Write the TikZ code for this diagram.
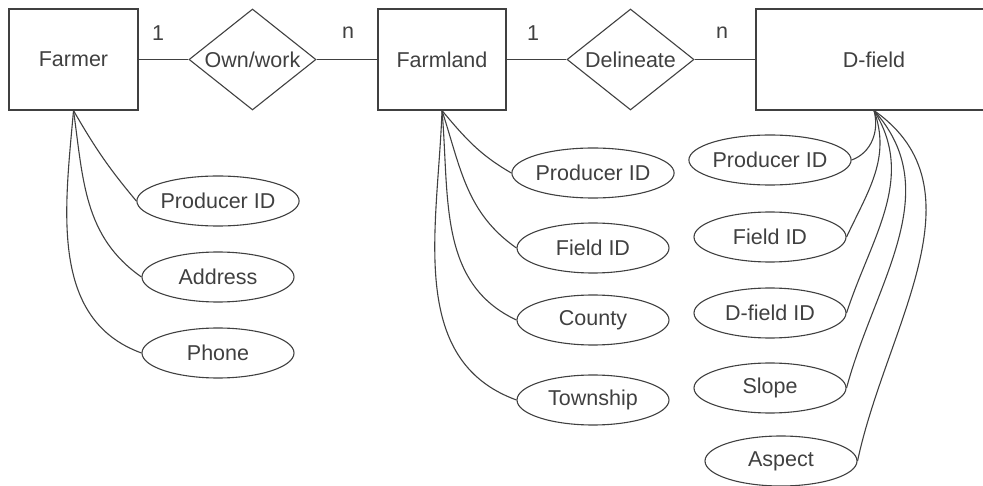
\documentclass[tikz,border=0pt]{standalone}
\usepackage{fontspec}
\setmainfont{Liberation Sans}
\usetikzlibrary{shapes.geometric}
\begin{document}
\begin{tikzpicture}[x=1pt,y=-1pt,line width=1.1pt,color=black!75,
    every node/.style={font=\fontsize{21.5}{25}\selectfont},
    entity/.style={draw,rectangle,inner sep=0pt,minimum height=101pt},
    relation/.style={draw,diamond,aspect=1.26,inner sep=0pt,minimum width=127pt,minimum height=101pt},
    attr/.style={draw,ellipse,inner sep=0pt,minimum width=152pt,minimum height=50pt}]
    \useasboundingbox (0,0) rectangle (983,486);
    \clip (0,0) rectangle (983,486);

    \node[entity,minimum width=129pt] (farmer) at (73.5,59.5) {Farmer};
    \node[relation] (own) at (252.5,59.5) {Own/work};
    \node[entity,minimum width=128pt] (farmland) at (442,59.5) {Farmland};
    \node[relation] (delin) at (630.5,59.5) {Delineate};
    \node[entity,minimum width=236pt] (dfield) at (874,59.5) {D-field};

    \node (c1) at (158,33) {1}; \node (cn) at (348,33) {n};
    \node (d1) at (533,33) {1}; \node (dn) at (722,33) {n};

    \draw (farmer) to (own); \draw (own) to (farmland);
    \draw (farmland) to (delin); \draw (delin) to (dfield);

    \node[attr] (fpid) at (218,201) {Producer ID};
    \node[attr] (faddr) at (218,277) {Address};
    \node[attr] (fphone) at (218,353) {Phone};

    \node[attr] (lpid) at (593,173) {Producer ID};
    \node[attr] (lfid) at (593,248) {Field ID};
    \node[attr] (lcounty) at (593,320) {County};
    \node[attr] (ltown) at (593,400) {Township};

    \node[attr] (dpid) at (770,160) {Producer ID};
    \node[attr] (dfid) at (770,237) {Field ID};
    \node[attr] (ddid) at (770,313) {D-field ID};
    \node[attr] (dslope) at (770,388) {Slope};
    \node[attr] (daspect) at (781,461) {Aspect};

    \draw (farmer.south) to[out=-60,in=130] (fpid.west);
    \draw (farmer.south) to[out=-82,in=145] (faddr.west);
    \draw (farmer.south) to[out=-95,in=160] (fphone.west);

    \draw (farmland.south) to[out=-50,in=150] (lpid.west);
    \draw (farmland.south) to[out=-72,in=145] (lfid.west);
    \draw (farmland.south) to[out=-85,in=155] (lcounty.west);
    \draw (farmland.south) to[out=-92,in=160] (ltown.west);

    \draw (dfield.south) to[out=-75,in=20] (dpid.east);
    \draw (dfield.south) to[out=-70,in=65] (dfid.east);
    \draw (dfield.south) to[out=-58,in=72] (ddid.east);
    \draw (dfield.south) to[out=-48,in=75] (dslope.east);
    \draw (dfield.south) to[out=-35,in=78] (daspect.east);
\end{tikzpicture}
\end{document}
